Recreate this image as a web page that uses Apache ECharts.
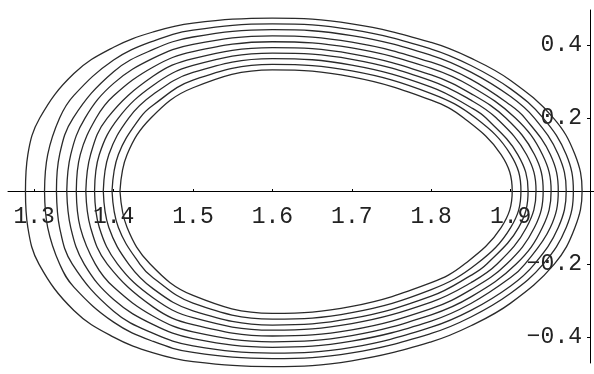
<!DOCTYPE html>
<html>
<head>
<meta charset="utf-8">
<script src="https://cdn.jsdelivr.net/npm/echarts@6/dist/echarts.min.js"></script>
<style>
  html, body { margin: 0; padding: 0; background: #fff; }
  #chart { width: 594px; height: 374px; }
</style>
</head>
<body>
<div id="chart"></div>
<script>
// x positions where the upper / lower arc of each contour is read
const topX = [1.35, 1.40, 1.45, 1.50, 1.60, 1.70, 1.80, 1.85, 1.90];
// y levels where the left / right ends of each contour are read
const sideY = [0.2, 0.1, 0, -0.1, -0.2];

// contours, innermost first (null = contour not reached at that x)
const ringTop = [
  [null, null, null, 0.283, 0.332, 0.313, 0.249, null, null],
  [null, null, 0.236, 0.304, 0.347, 0.329, 0.267, null, null],
  [null, null, 0.265, 0.325, 0.363, 0.345, 0.285, 0.229, null],
  [null, null, 0.290, 0.344, 0.378, 0.361, 0.302, 0.249, null],
  [null, null, 0.315, 0.363, 0.393, 0.376, 0.318, 0.267, null],
  [null, 0.261, 0.340, 0.382, 0.409, 0.392, 0.336, 0.287, null],
  [null, 0.295, 0.364, 0.402, 0.425, 0.408, 0.353, 0.306, 0.235],
  [null, 0.327, 0.388, 0.422, 0.442, 0.426, 0.372, 0.326, 0.259],
  [0.262, 0.359, 0.411, 0.441, 0.458, 0.442, 0.389, 0.344, 0.280],
  [0.322, 0.394, 0.436, 0.460, 0.474, 0.458, 0.407, 0.364, 0.303]
];
const ringBottom = [
  [null, null, null, -0.286, -0.335, -0.316, -0.251, null, null],
  [null, null, -0.238, -0.307, -0.351, -0.333, -0.270, null, null],
  [null, null, -0.268, -0.328, -0.367, -0.349, -0.288, -0.231, null],
  [null, null, -0.293, -0.347, -0.381, -0.363, -0.304, -0.251, null],
  [null, null, -0.318, -0.366, -0.397, -0.380, -0.322, -0.270, null],
  [null, -0.263, -0.343, -0.386, -0.413, -0.396, -0.339, -0.290, null],
  [null, -0.297, -0.366, -0.404, -0.428, -0.411, -0.356, -0.308, -0.237],
  [null, -0.329, -0.390, -0.424, -0.444, -0.428, -0.373, -0.327, -0.260],
  [-0.263, -0.359, -0.412, -0.442, -0.459, -0.443, -0.390, -0.345, -0.280],
  [-0.327, -0.400, -0.443, -0.467, -0.481, -0.465, -0.413, -0.369, -0.307]
];
const ringLeft = [
  [1.447, 1.417, 1.408, 1.417, 1.446],
  [1.433, 1.406, 1.398, 1.406, 1.433],
  [1.419, 1.394, 1.387, 1.394, 1.419],
  [1.406, 1.382, 1.376, 1.382, 1.405],
  [1.392, 1.371, 1.365, 1.371, 1.392],
  [1.378, 1.358, 1.353, 1.358, 1.377],
  [1.364, 1.346, 1.341, 1.346, 1.363],
  [1.349, 1.332, 1.328, 1.332, 1.348],
  [1.332, 1.317, 1.313, 1.317, 1.332],
  [1.307, 1.292, 1.289, 1.292, 1.306]
];
const ringRight = [
  [1.841, 1.888, 1.902, 1.888, 1.842],
  [1.856, 1.900, 1.913, 1.900, 1.857],
  [1.869, 1.909, 1.922, 1.910, 1.870],
  [1.882, 1.920, 1.932, 1.920, 1.883],
  [1.894, 1.930, 1.941, 1.930, 1.895],
  [1.906, 1.940, 1.951, 1.940, 1.907],
  [1.918, 1.950, 1.960, 1.950, 1.918],
  [1.930, 1.960, 1.970, 1.960, 1.930],
  [1.941, 1.970, 1.979, 1.970, 1.941],
  [1.954, 1.981, 1.990, 1.981, 1.955]
];

const xTicks = [1.3, 1.4, 1.5, 1.6, 1.7, 1.8, 1.9];
const yTicks = [-0.4, -0.2, 0.2, 0.4];

// walk one contour clockwise, starting on the left end at y = 0
const ringPoints = (i) => {
  const pts = [];
  [2, 1, 0].forEach((k) => pts.push([ringLeft[i][k], sideY[k]]));
  topX.forEach((x, j) => { if (ringTop[i][j] !== null) pts.push([x, ringTop[i][j]]); });
  [0, 1, 2, 3, 4].forEach((k) => pts.push([ringRight[i][k], sideY[k]]));
  for (let j = topX.length - 1; j >= 0; j--) {
    if (ringBottom[i][j] !== null) pts.push([topX[j], ringBottom[i][j]]);
  }
  [4, 3].forEach((k) => pts.push([ringLeft[i][k], sideY[k]]));
  pts.push(pts[0]);
  return pts;
};

const series = ringTop.map((_, i) => ({
  type: 'line',
  data: ringPoints(i),
  smooth: 0.4,
  symbol: 'none',
  clip: false,
  silent: true,
  lineStyle: { color: '#2a2a2a', width: 1.3 },
}));

const X_MIN = 1.267;
const X_MAX = 2.005;
const labelFont = { color: '#222', fontSize: 23, fontFamily: 'Liberation Mono, DejaVu Sans Mono, monospace' };

const chart = echarts.init(document.getElementById('chart'));
chart.setOption({
  animation: false,
  backgroundColor: '#fff',
  // grid 0 holds the contours; grid 1 is the upper half, its bottom edge carries the x axis at y = 0
  grid: [
    { left: 8, right: 0, top: 10, bottom: 11, containLabel: false, outerBoundsMode: 'none' },
    { left: 8, right: 0, top: 10, bottom: 183, containLabel: false, outerBoundsMode: 'none' },
  ],
  xAxis: [
    { type: 'value', gridIndex: 0, min: X_MIN, max: X_MAX, show: false },
    {
      type: 'value',
      gridIndex: 1,
      min: X_MIN,
      max: X_MAX,
      axisLine: { onZero: false, lineStyle: { color: '#000', width: 1 } },
      axisTick: { inside: true, length: 2, lineStyle: { color: '#000' }, customValues: xTicks },
      axisLabel: Object.assign({ customValues: xTicks, formatter: (v) => v.toFixed(1), margin: 14 }, labelFont),
      splitLine: { show: false },
    },
  ],
  yAxis: [
    {
      type: 'value',
      gridIndex: 0,
      position: 'right',
      offset: -4,
      min: -0.471,
      max: 0.496,
      axisLine: { show: true, lineStyle: { color: '#000', width: 1 } },
      axisTick: { inside: true, length: 3, lineStyle: { color: '#000' }, customValues: yTicks },
      axisLabel: Object.assign({
        inside: true,
        customValues: yTicks,
        formatter: (v) => (v < 0 ? '\u2212' : '') + Math.abs(v).toFixed(1),
        margin: 8,
      }, labelFont),
      splitLine: { show: false },
    },
    { type: 'value', gridIndex: 1, min: 0, max: 0.496, show: false },
  ],
  series: series,
});
</script>
</body>
</html>
